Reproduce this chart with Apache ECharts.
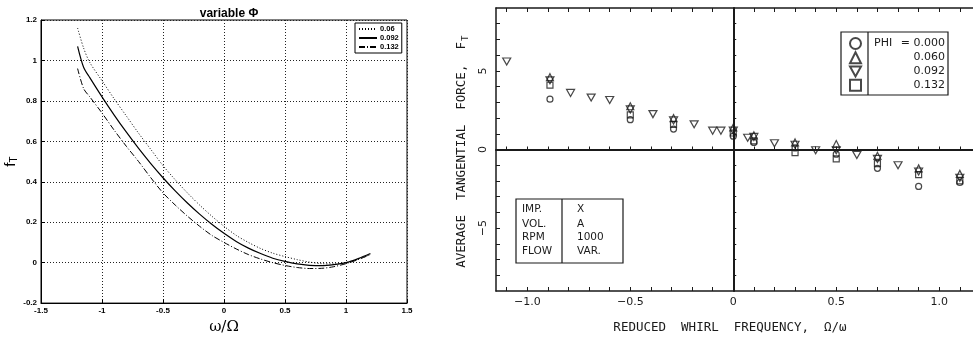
<!DOCTYPE html>
<html><head><meta charset="utf-8">
<script src="https://cdn.jsdelivr.net/npm/echarts@6/dist/echarts.min.js"></script>
<style>html,body{margin:0;padding:0;background:#fff}#c{width:973px;height:340px}</style>
</head><body><div id="c"></div>
<script>
// ---------- Left panel data (f_T vs omega/Omega) ----------
const leftX = [-1.2,-1.15,-1.1,-1.0,-0.9,-0.8,-0.7,-0.6,-0.5,-0.4,-0.3,-0.2,-0.1,0,0.1,0.2,0.3,0.4,0.5,0.6,0.7,0.8,0.9,1.0,1.1,1.2];
const phi006 = [1.16,1.06,0.99,0.90,0.81,0.725,0.64,0.56,0.48,0.41,0.345,0.285,0.23,0.18,0.135,0.10,0.07,0.047,0.03,0.015,0.003,-0.005,-0.006,0.0,0.018,0.04];
const phi092 = [1.07,0.965,0.915,0.82,0.73,0.645,0.565,0.49,0.42,0.355,0.295,0.24,0.19,0.145,0.105,0.072,0.045,0.022,0.006,-0.006,-0.013,-0.015,-0.01,0.0,0.02,0.045];
const phi132 = [0.96,0.86,0.82,0.74,0.655,0.575,0.50,0.42,0.345,0.285,0.23,0.18,0.135,0.10,0.068,0.04,0.018,0.0,-0.014,-0.024,-0.029,-0.028,-0.02,-0.005,0.015,0.04];
const leftNames = ['0.06','0.092','0.132'];

// ---------- Right panel data (average tangential force) ----------
const phi000pts = [[-0.89,3.2],[-0.5,1.9],[-0.29,1.3],[0,0.85],[0.1,0.45],[0.3,0.1],[0.5,-0.3],[0.7,-1.2],[0.9,-2.35],[1.1,-2.1]];
const phi060pts = [[-0.89,4.6],[-0.5,2.75],[-0.29,2.0],[0,1.4],[0.1,0.9],[0.3,0.45],[0.5,0.35],[0.7,-0.4],[0.9,-1.2],[1.1,-1.55]];
const phi092pts = [[-1.1,5.6],[-0.89,4.4],[-0.79,3.6],[-0.69,3.3],[-0.6,3.15],[-0.5,2.55],[-0.39,2.25],[-0.29,1.85],[-0.19,1.6],[-0.1,1.2],[-0.06,1.2],[0,1.2],[0.07,0.75],[0.1,0.8],[0.2,0.4],[0.3,0.3],[0.4,-0.05],[0.5,-0.05],[0.6,-0.35],[0.7,-0.6],[0.8,-1.0],[0.9,-1.4],[1.1,-1.8]];
const phi132pts = [[-0.89,4.1],[-0.5,2.2],[-0.29,1.6],[0,1.05],[0.1,0.55],[0.3,-0.2],[0.5,-0.6],[0.7,-0.9],[0.9,-1.6],[1.1,-2.0]];
const rightNames = ['0.000','0.060','0.092','0.132'];
const rightSeriesNames = ['PHI = 0.000','PHI = 0.060','PHI = 0.092','PHI = 0.132'];
const rightXLabels = [-1.0,-0.5,0,0.5,1.0];
const rightXTicks = [-1.1,-1.0,-0.9,-0.8,-0.7,-0.6,-0.5,-0.4,-0.3,-0.2,-0.1,0,0.1,0.2,0.3,0.4,0.5,0.6,0.7,0.8,0.9,1.0,1.1];
const rightYLabels = [-5,0,5];
const rightYTicks = [-8,-7,-6,-5,-4,-3,-2,-1,0,1,2,3,4,5,6,7,8];
const infoLeft = ['IMP.','VOL.','RPM','FLOW'];
const infoRight = ['X','A','1000','VAR.'];

const pair = (xs, ys) => xs.map((x,i)=>[x, ys[i]]);
const fmtL = v => { const r = Math.round(v*10)/10; return String(r); };
const fmtR = v => { const r = Math.round(v*10)/10; if (r === 0) return '0'; return (r<0?'−':'') + Math.abs(r).toFixed(1); };
const fmtRY = v => { const r = Math.round(v); if (r===0) return '0'; return (r<0?'−':'') + Math.abs(r); };

const lf = 'Liberation Sans, Arial, sans-serif';
const rf = 'DejaVu Sans, sans-serif';
const mono = 'DejaVu Sans Mono, monospace';
const ink = '#1a1a1a';
const triDown = 'path://M0,0L10,0L5,9Z';
const hollow = {color: 'rgba(255,255,255,0)', borderColor: ink, borderWidth: 1.2};

const chart = echarts.init(document.getElementById('c'));
const option = {
  animation: false,
  backgroundColor: '#fff',
  title: {
    text: 'variable Φ', left: 224, top: 3, textAlign: 'center',
    textStyle: {fontFamily: lf, fontWeight: 'bold', fontSize: 12, color: '#000'}
  },
  grid: [
    {left: 41, top: 20, width: 366, height: 288, show: true, borderColor: '#000', borderWidth: 1, backgroundColor: '#fff'},
    {left: 496, top: 8, width: 477, height: 283}
  ],
  legend: [
    {
      data: leftNames, left: 355, top: 23, orient: 'vertical',
      itemWidth: 18, itemHeight: 8, itemGap: 1, padding: [2,3,2,3],
      backgroundColor: '#fff', borderColor: '#000', borderWidth: 1,
      itemStyle: {opacity: 0},
      textStyle: {fontFamily: lf, fontWeight: 'bold', fontSize: 7.5, color: '#000', padding: [0,0,0,-2]}
    },
    {
      data: rightSeriesNames, left: 849, top: 37, orient: 'vertical',
      itemWidth: 11, itemHeight: 11, itemGap: 1.3, padding: 0,
      textStyle: {fontSize: 8, lineHeight: 11},
      formatter: () => '', selectedMode: false
    }
  ],
  xAxis: [
    {gridIndex: 0, type: 'value', min: -1.5, max: 1.5, interval: 0.5,
     axisLine: {onZero: false, lineStyle: {color: '#000', width: 1}},
     axisTick: {inside: true, length: 4, lineStyle: {color: '#000'}},
     axisLabel: {formatter: fmtL, margin: 4, fontFamily: lf, fontWeight: 'bold', fontSize: 8, color: '#000', showMinLabel: true, showMaxLabel: true},
     splitLine: {show: true, lineStyle: {type: [1,2], color: '#222', width: 1}},
     name: 'ω/Ω', nameLocation: 'middle', nameGap: 13,
     nameTextStyle: {fontFamily: 'DejaVu Serif, Liberation Serif, serif', fontSize: 15, color: '#000'}
    },
    {gridIndex: 1, type: 'value', min: -1.152, max: 1.164, position: 'bottom',
     axisLine: {onZero: false, lineStyle: {color: ink, width: 1.5}},
     axisTick: {inside: true, length: 4, customValues: rightXTicks, lineStyle: {color: ink}},
     axisLabel: {customValues: rightXLabels, formatter: fmtR, margin: 6, fontFamily: rf, fontSize: 11, color: ink},
     splitLine: {show: false}
    },
    {gridIndex: 1, type: 'value', min: -1.152, max: 1.164, position: 'top',
     axisLine: {onZero: false, lineStyle: {color: ink, width: 1.5}},
     axisTick: {inside: true, length: 4, customValues: rightXTicks, lineStyle: {color: ink}},
     axisLabel: {show: false}, splitLine: {show: false}
    },
    {gridIndex: 1, type: 'value', min: -1.152, max: 1.164, position: 'bottom',
     axisLine: {onZero: true, lineStyle: {color: ink, width: 2}},
     axisTick: {inside: true, length: 3, customValues: rightXTicks, lineStyle: {color: ink}},
     axisLabel: {show: false}, splitLine: {show: false}
    }
  ],
  yAxis: [
    {gridIndex: 0, type: 'value', min: -0.2, max: 1.2, interval: 0.2,
     axisLine: {onZero: false, lineStyle: {color: '#000', width: 1}},
     axisTick: {inside: true, length: 4, lineStyle: {color: '#000'}},
     axisLabel: {formatter: fmtL, margin: 4, fontFamily: lf, fontWeight: 'bold', fontSize: 8, color: '#000'},
     splitLine: {show: true, lineStyle: {type: [1,2], color: '#222', width: 1}},
     name: '{a|f}{b|T}', nameLocation: 'middle', nameGap: 21, nameRotate: 90,
     nameTextStyle: {rich: {
       a: {fontFamily: lf, fontSize: 15, color: '#000'},
       b: {fontFamily: lf, fontSize: 10, color: '#000', verticalAlign: 'bottom', padding: [6,0,0,0]}
     }}
    },
    {gridIndex: 1, type: 'value', min: -9, max: 9, interval: 1, position: 'left',
     axisLine: {onZero: false, lineStyle: {color: ink, width: 1.5}},
     axisTick: {inside: true, length: 4, customValues: rightYTicks, lineStyle: {color: ink}},
     axisLabel: {customValues: rightYLabels, formatter: fmtRY, rotate: 90, margin: 7, fontFamily: rf, fontSize: 11, color: ink},
     splitLine: {show: false}
    },
    {gridIndex: 1, type: 'value', min: -9, max: 9, interval: 1, position: 'left',
     axisLine: {onZero: true, lineStyle: {color: ink, width: 2}},
     axisTick: {inside: true, length: 3, customValues: rightYTicks, lineStyle: {color: ink}},
     axisLabel: {show: false}, splitLine: {show: false}
    }
  ],
  series: [
    {name: leftNames[0], type: 'line', xAxisIndex: 0, yAxisIndex: 0, data: pair(leftX, phi006), symbol: 'none', smooth: 0.3,
     itemStyle: {color: '#000'}, lineStyle: {color: '#000', width: 1, type: [1,2]}},
    {name: leftNames[1], type: 'line', xAxisIndex: 0, yAxisIndex: 0, data: pair(leftX, phi092), symbol: 'none', smooth: 0.3,
     itemStyle: {color: '#000'}, lineStyle: {color: '#000', width: 1.2, type: 'solid'}},
    {name: leftNames[2], type: 'line', xAxisIndex: 0, yAxisIndex: 0, data: pair(leftX, phi132), symbol: 'none', smooth: 0.3,
     itemStyle: {color: '#000'}, lineStyle: {color: '#000', width: 1, type: [6,2,1,2]}},
    {name: rightSeriesNames[0], type: 'scatter', xAxisIndex: 1, yAxisIndex: 1, data: phi000pts, symbol: 'circle', symbolSize: 6, itemStyle: hollow},
    {name: rightSeriesNames[1], type: 'scatter', xAxisIndex: 1, yAxisIndex: 1, data: phi060pts, symbol: 'triangle', symbolSize: 7, itemStyle: hollow},
    {name: rightSeriesNames[2], type: 'scatter', xAxisIndex: 1, yAxisIndex: 1, data: phi092pts, symbol: triDown, symbolSize: [8,7], itemStyle: hollow},
    {name: rightSeriesNames[3], type: 'scatter', xAxisIndex: 1, yAxisIndex: 1, data: phi132pts, symbol: 'rect', symbolSize: 6, itemStyle: hollow}
  ],
  graphic: [
    {type: 'rect', shape: {x: 841, y: 32, width: 107, height: 63}, style: {fill: 'none', stroke: ink, lineWidth: 1.2}, z: 10},
    {type: 'line', shape: {x1: 868, y1: 32, x2: 868, y2: 95}, style: {stroke: ink, lineWidth: 1.2}, z: 10},
    {type: 'text', x: 874, y: 43, style: {text: 'PHI', font: '11px ' + rf, fill: ink, textVerticalAlign: 'middle'}, z: 10},
    {type: 'text', x: 945, y: 43, style: {text: '= ' + rightNames[0], font: '11px ' + rf, fill: ink, textAlign: 'right', textVerticalAlign: 'middle'}, z: 10},
    {type: 'text', x: 945, y: 57, style: {text: rightNames[1], font: '11px ' + rf, fill: ink, textAlign: 'right', textVerticalAlign: 'middle'}, z: 10},
    {type: 'text', x: 945, y: 71, style: {text: rightNames[2], font: '11px ' + rf, fill: ink, textAlign: 'right', textVerticalAlign: 'middle'}, z: 10},
    {type: 'text', x: 945, y: 85, style: {text: rightNames[3], font: '11px ' + rf, fill: ink, textAlign: 'right', textVerticalAlign: 'middle'}, z: 10},
    {type: 'rect', shape: {x: 516, y: 199, width: 107, height: 64}, style: {fill: 'none', stroke: ink, lineWidth: 1.2}, z: 10},
    {type: 'line', shape: {x1: 562, y1: 199, x2: 562, y2: 263}, style: {stroke: ink, lineWidth: 1.2}, z: 10},
    ...infoLeft.map((t,i) => ({type: 'text', x: 522, y: [209,224,237,251][i], style: {text: t, font: '10.5px ' + rf, fill: ink, textVerticalAlign: 'middle'}, z: 10})),
    ...infoRight.map((t,i) => ({type: 'text', x: 577, y: [209,224,237,251][i], style: {text: t, font: '10.5px ' + rf, fill: ink, textVerticalAlign: 'middle'}, z: 10})),
    {type: 'text', x: 730, y: 328, style: {text: 'REDUCED  WHIRL  FREQUENCY,  Ω/ω', font: '12.5px ' + mono, fill: ink, textAlign: 'center', textVerticalAlign: 'middle'}, z: 10},
    {type: 'text', x: 462, y: 42, rotation: Math.PI/2,
     style: {text: 'AVERAGE  TANGENTIAL  FORCE,  F', font: '12.5px ' + mono, fill: ink, textAlign: 'right', textVerticalAlign: 'middle'}, z: 10},
    {type: 'text', x: 466, y: 41, rotation: Math.PI/2,
     style: {text: 'T', font: '9px ' + mono, fill: ink, textAlign: 'left', textVerticalAlign: 'middle'}, z: 10}
  ]
};
chart.setOption(option);
</script></body></html>
